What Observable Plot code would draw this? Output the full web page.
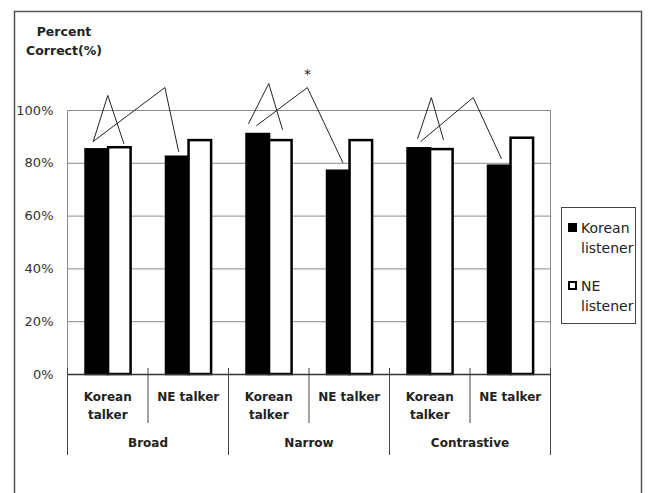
<!DOCTYPE html>
<html><head><meta charset="utf-8">
<script src="https://cdn.jsdelivr.net/npm/d3@7"></script>
<script src="https://cdn.jsdelivr.net/npm/@observablehq/plot@0.6"></script>
<style>
body{margin:0;background:#fff;font-family:"DejaVu Sans",sans-serif;}
#wrap{position:relative;width:648px;height:493px;overflow:hidden;}
#wrap svg{position:absolute;left:0;top:0;}
.title{position:absolute;left:14px;top:22px;width:100px;text-align:center;font-weight:bold;font-size:12.5px;line-height:19px;color:#222;}
.legend{position:absolute;left:561px;top:207px;width:73px;height:115px;border:1.5px solid #444;font-size:14px;color:#222;}
.legend .item{position:absolute;left:19px;line-height:20px;}
.legend .sw{position:absolute;left:-13px;top:5px;width:9px;height:9px;box-sizing:border-box;border:2px solid #000;}
</style></head><body><div id="wrap"></div>
<script>
// ---- data ----
const conditions = ["Broad", "Narrow", "Contrastive"];
const talkers = ["Korean talker", "NE talker"];
const listeners = ["Korean listener", "NE listener"];
// percent correct, order: Broad-Korean, Broad-NE, Narrow-Korean, Narrow-NE, Contrastive-Korean, Contrastive-NE
const koreanListener = [85.1, 82.3, 90.9, 77.0, 85.5, 78.9];
const neListener = [85.9, 88.6, 88.6, 88.6, 85.2, 89.5];
const yTicks = [0, 20, 40, 60, 80, 100];
const yTickLabels = ["0%", "20%", "40%", "60%", "80%", "100%"];
// comparison brackets drawn over the bars: [group position, percent]
const bracketA = [[0.32, 88.3], [0.50, 105.7], [0.70, 87.5]];
const bracketB = [[0.32, 88.3], [1.21, 108.7], [1.38, 84.5]];
const bracketC = [[2.25, 95.1], [2.50, 110.2], [2.67, 92.8]];
const bracketD = [[2.35, 94.3], [2.98, 108.7], [3.42, 80.3]];
const bracketE = [[4.35, 89.4], [4.52, 104.9], [4.67, 89.0]];
const bracketF = [[4.39, 88.3], [5.04, 104.9], [5.39, 81.8]];
const significance = [[2.98, 113.6, "*"]];

// ---- build tables ----
const groups = [];
conditions.forEach((c, ci) => talkers.forEach((t, ti) => groups.push({cond: c, talker: t, i: ci * 2 + ti})));
const bw = 0.28, mid = 0.51;
const bars = [];
groups.forEach(g => {
  bars.push({x1: g.i + mid - bw, x2: g.i + mid, y: koreanListener[g.i], listener: listeners[0]});
  bars.push({x1: g.i + mid, x2: g.i + mid + bw, y: neListener[g.i], listener: listeners[1]});
});
const brackets = [bracketA, bracketB, bracketC, bracketD, bracketE, bracketF]
  .flatMap((b, k) => b.map(([x, y]) => ({x, y, k})));
const condCenters = conditions.map((c, ci) => ({x: ci * 2 + 1, label: c}));
const innerSeps = [1, 3, 5];
const outerSeps = [0, 2, 4, 6];

const chart = Plot.plot({
  width: 648, height: 493,
  marginLeft: 67, marginRight: 98, marginTop: 110, marginBottom: 119,
  x: {type: "linear", domain: [0, 6], axis: null},
  y: {domain: [0, 100], axis: null},
  style: {fontFamily: "DejaVu Sans, sans-serif", background: "transparent", overflow: "visible"},
  marks: [
    Plot.frame({stroke: "#555", strokeWidth: 1.5, insetLeft: -53, insetTop: -99, insetRight: -91, insetBottom: -135}),
    Plot.ruleY(yTicks.filter(v => v > 0), {stroke: "#8a8a8a", strokeWidth: 1}),
    Plot.ruleX([0, 6], {y1: 100, y2: 0, stroke: "#8a8a8a", strokeWidth: 1}),
    Plot.rect(bars, {x1: "x1", x2: "x2", y1: 0, y2: "y",
      fill: d => d.listener === listeners[0] ? "#000" : "#fff", stroke: "#000", strokeWidth: 2.5}),
    Plot.ruleY([0], {stroke: "#333", strokeWidth: 1.5}),
    Plot.ruleX(innerSeps, {y1: 0, y2: 0, insetTop: -6, insetBottom: -49, stroke: "#444", strokeWidth: 1}),
    Plot.ruleX(outerSeps, {y1: 0, y2: 0, insetTop: -6, insetBottom: -81, stroke: "#444", strokeWidth: 1}),
    Plot.text(yTicks, {x: 0, y: d => d, text: (d, i) => yTickLabels[i], textAnchor: "end", dx: -14, fontSize: 13, fill: "#333"}),
    Plot.text(groups, {x: d => d.i + 0.5, y: 0, text: d => d.talker === talkers[0] ? d.talker.replace(" ", "\n") : d.talker,
      lineAnchor: "top", dy: 14, fontSize: 12, fontWeight: "bold", lineHeight: 1.5, fill: "#222"}),
    Plot.text(condCenters, {x: "x", y: 0, text: "label", dy: 69, fontSize: 12, fontWeight: "bold", fill: "#222"}),
    Plot.line(brackets, {x: "x", y: "y", z: "k", stroke: "#222", strokeWidth: 1, curve: "linear"}),
    Plot.text(significance, {x: d => d[0], y: d => d[1], text: d => d[2], fontSize: 14, fill: "#222"})
  ]
});
const wrap = document.getElementById("wrap");
wrap.appendChild(chart);

const title = document.createElement("div");
title.className = "title";
title.innerHTML = "Percent<br>Correct(%)";
wrap.appendChild(title);

const legend = document.createElement("div");
legend.className = "legend";
const legendItems = [
  {text: "Korean<br>listener", fill: "#000", top: 10},
  {text: "NE<br>listener", fill: "#fff", top: 68}
];
legendItems.forEach(it => {
  const d = document.createElement("div");
  d.className = "item";
  d.style.top = it.top + "px";
  d.innerHTML = `<span class="sw" style="background:${it.fill}"></span>${it.text}`;
  legend.appendChild(d);
});
wrap.appendChild(legend);
</script></body></html>
